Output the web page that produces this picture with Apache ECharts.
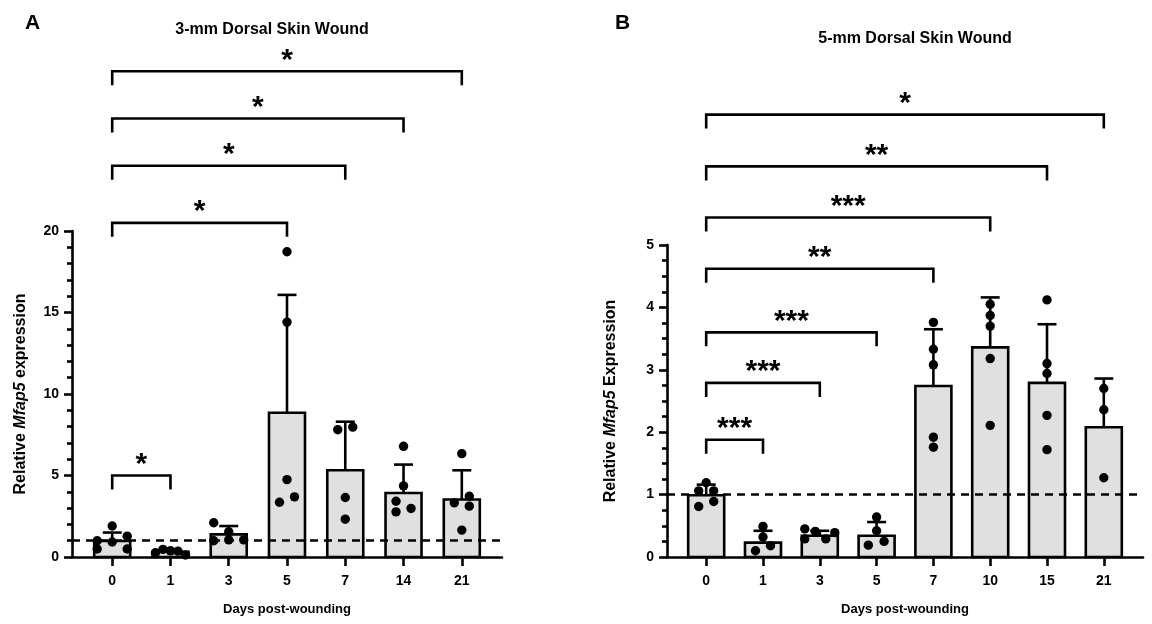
<!DOCTYPE html>
<html><head><meta charset="utf-8">
<script src="https://cdn.jsdelivr.net/npm/echarts@6/dist/echarts.min.js"></script>
<style>html,body{margin:0;padding:0;background:#fff}#c{width:1152px;height:624px}</style>
</head><body><div id="c"></div>
<script>
// ---------- Panel A data ----------
const catsA = ['0','1','3','5','7','14','21'];
const meanA = [0.98, 0.32, 1.39, 8.85, 5.32, 3.93, 3.53];
const sdA   = [0.52, 0.12, 0.51, 7.23, 2.98, 1.74, 1.79];
const pointsA = [
  [1.9, 1.0, 0.92, 1.28, 0.49, 0.49],
  [0.26, 0.47, 0.38, 0.36, 0.12],
  [2.1, 1.0, 1.55, 1.05, 1.05],
  [18.73, 14.41, 4.75, 3.36, 3.69],
  [7.81, 7.97, 3.65, 2.32],
  [6.79, 4.36, 3.42, 2.98, 2.77],
  [6.34, 3.73, 3.32, 3.12, 1.65]
];
const slotsA = [[0,-2,0,2,-2,2],[-2,-1,0,1,2],[-2,-2,0,0,2],[0,0,0,-1,1],[-1,1,0,0],[0,0,-1,1,-1],[0,1,-1,1,0]];
const bracketToA = [1, 3, 4, 5, 6];
const bracketLevelA = [5.0, 20.5, 24.0, 26.9, 29.8];
const bracketStarsA = ['*', '*', '*', '*', '*'];
const yTicksA = [0, 5, 10, 15, 20];

// ---------- Panel B data ----------
const catsB = ['0','1','3','5','7','10','15','21'];
const meanB = [0.99, 0.23, 0.34, 0.34, 2.74, 3.36, 2.79, 2.08];
const sdB   = [0.17, 0.19, 0.08, 0.22, 0.91, 0.80, 0.94, 0.78];
const pointsB = [
  [1.19, 1.06, 1.06, 0.81, 0.89],
  [0.49, 0.32, 0.18, 0.10],
  [0.45, 0.41, 0.29, 0.29, 0.39],
  [0.64, 0.42, 0.19, 0.25],
  [3.76, 3.33, 3.08, 1.92, 1.76],
  [4.05, 3.87, 3.70, 3.18, 2.11],
  [4.12, 3.10, 2.94, 2.27, 1.72],
  [2.70, 2.36, 1.27]
];
const slotsB = [[0,-1,1,-1,1],[0,0,1,-1],[-2,-0.6,-2,0.8,2],[0,0,-1.1,1],[0,0,0,0,0],[0,0,0,0,0],[0,0,0,0,0],[0,0,0,0,0]];
const bracketToB = [1, 2, 3, 4, 5, 6, 7];
const bracketLevelB = [1.88, 2.79, 3.6, 4.62, 5.44, 6.26, 7.09];
const bracketStarsB = ['***', '***', '***', '**', '***', '**', '*'];
const yTicksB = [0, 1, 2, 3, 4, 5];

// ---------- styling ----------
const FONT = 'Liberation Sans, Arial, sans-serif';
const LW = 2.6;
const BAR_HALF = 18;
const CAP_HALF = 9.5;
const SLOT_PX = 7.5;
const DOT_R = 4.7;

function xAxisFor(gridIndex, cats, nameText) {
  const idx = cats.map((c, i) => i);
  return {
    type: 'value', gridIndex: gridIndex,
    min: -0.69, max: cats.length - 1 + 0.69,
    splitLine: {show: false},
    axisLine: {show: true, onZero: false, lineStyle: {color: '#000', width: LW}},
    axisTick: {show: true, customValues: idx, length: 9, lineStyle: {color: '#000', width: LW}},
    axisLabel: {show: true, customValues: idx, formatter: v => cats[Math.round(v)],
      margin: 17, color: '#000', fontSize: 14, fontWeight: 'bold', fontFamily: FONT},
    name: nameText, nameLocation: 'middle', nameGap: 46,
    nameTextStyle: {color: '#000', fontSize: 13, fontWeight: 'bold', fontFamily: FONT}
  };
}
function yAxisFor(gridIndex, max, interval, minorSplit, nameWord, gap) {
  return {
    type: 'value', gridIndex: gridIndex, min: 0, max: max, interval: interval,
    splitLine: {show: false},
    axisLine: {show: true, onZero: false, lineStyle: {color: '#000', width: LW}},
    axisTick: {show: true, length: 8, lineStyle: {color: '#000', width: LW}},
    minorTick: {show: true, splitNumber: minorSplit, length: 5, lineStyle: {color: '#000', width: LW}},
    axisLabel: {margin: 13, color: '#000', fontSize: 14, fontWeight: 'bold', fontFamily: FONT},
    name: '{n|Relative }{i|Mfap5}{n| ' + nameWord + '}',
    nameLocation: 'middle', nameGap: gap,
    nameTextStyle: {rich: {
      n: {color: '#000', fontSize: 16, fontWeight: 'bold', fontFamily: FONT},
      i: {color: '#000', fontSize: 16, fontWeight: 'bold', fontStyle: 'italic', fontFamily: FONT}
    }}
  };
}

function barSeries(ax, means, sds) {
  return {
    type: 'custom', xAxisIndex: ax, yAxisIndex: ax, z: 2,
    data: means.map((m, i) => [i, m, sds[i]]),
    renderItem: function (params, api) {
      const i = api.value(0), m = api.value(1), s = api.value(2);
      const p0 = api.coord([i, 0]);
      const p1 = api.coord([i, m]);
      const p2 = api.coord([i, m + s]);
      return {type: 'group', children: [
        {type: 'line', shape: {x1: p1[0], y1: p1[1], x2: p2[0], y2: p2[1]}, style: {stroke: '#000', lineWidth: LW}},
        {type: 'line', shape: {x1: p2[0] - CAP_HALF, y1: p2[1], x2: p2[0] + CAP_HALF, y2: p2[1]}, style: {stroke: '#000', lineWidth: LW}},
        {type: 'rect', shape: {x: p1[0] - BAR_HALF, y: p1[1], width: BAR_HALF * 2, height: p0[1] - p1[1]},
          style: {fill: '#e0e0e0', stroke: '#000', lineWidth: LW}}
      ]};
    },
    markLine: {
      silent: true, symbol: 'none', label: {show: false},
      lineStyle: {color: '#000', type: [8, 6], width: LW},
      data: [{yAxis: 1}]
    }
  };
}
function pointSeries(ax, pts, slots) {
  const data = [];
  pts.forEach((g, gi) => g.forEach((v, k) => data.push([gi, v, slots[gi][k]])));
  return {
    type: 'custom', xAxisIndex: ax, yAxisIndex: ax, z: 4, data: data,
    renderItem: function (params, api) {
      const c = api.coord([api.value(0), api.value(1)]);
      return {type: 'circle', shape: {cx: c[0] + api.value(2) * SLOT_PX, cy: c[1], r: DOT_R}, style: {fill: '#000'}};
    }
  };
}
function bracketSeries(ax, tos, levels, stars) {
  return {
    type: 'custom', xAxisIndex: ax, yAxisIndex: ax, z: 5,
    data: tos.map((t, i) => [0, t, levels[i]]),
    renderItem: function (params, api) {
      const a = api.coord([api.value(0), api.value(2)]);
      const b = api.coord([api.value(1), api.value(2)]);
      const drop = 14;
      return {type: 'group', children: [
        {type: 'polyline', shape: {points: [[a[0], a[1] + drop], [a[0], a[1]], [b[0], b[1]], [b[0], b[1] + drop]]},
          style: {stroke: '#000', fill: null, lineWidth: LW}},
        {type: 'text', x: (a[0] + b[0]) / 2, y: a[1] + 4,
          style: {text: stars[params.dataIndex], fill: '#000', fontSize: 30, fontWeight: 'bold', fontFamily: FONT,
            align: 'center', verticalAlign: 'bottom'}}
      ]};
    }
  };
}

const chart = echarts.init(document.getElementById('c'), null, {renderer: 'canvas'});
chart.setOption({
  animation: false,
  backgroundColor: '#fff',
  title: [
    {text: 'A', left: 20, top: 8, textStyle: {fontSize: 21, fontWeight: 'bold', fontFamily: FONT, color: '#000'}},
    {text: 'B', left: 610, top: 8, textStyle: {fontSize: 21, fontWeight: 'bold', fontFamily: FONT, color: '#000'}},
    {text: '3-mm Dorsal Skin Wound', left: 267, top: 17, textAlign: 'center',
      textStyle: {fontSize: 16, fontWeight: 'bold', fontFamily: FONT, color: '#000'}},
    {text: '5-mm Dorsal Skin Wound', left: 910, top: 26, textAlign: 'center',
      textStyle: {fontSize: 16, fontWeight: 'bold', fontFamily: FONT, color: '#000'}}
  ],
  grid: [
    {left: 72, top: 231, width: 430, height: 326, containLabel: false, outerBoundsMode: 'none'},
    {left: 667, top: 245, width: 476, height: 312, containLabel: false, outerBoundsMode: 'none'}
  ],
  xAxis: [xAxisFor(0, catsA, 'Days post-wounding'), xAxisFor(1, catsB, 'Days post-wounding')],
  yAxis: [yAxisFor(0, 20, 5, 5, 'expression', 43), yAxisFor(1, 5, 1, 4, 'Expression', 48)],
  series: [
    barSeries(0, meanA, sdA), pointSeries(0, pointsA, slotsA), bracketSeries(0, bracketToA, bracketLevelA, bracketStarsA),
    barSeries(1, meanB, sdB), pointSeries(1, pointsB, slotsB), bracketSeries(1, bracketToB, bracketLevelB, bracketStarsB)
  ]
});
</script></body></html>
